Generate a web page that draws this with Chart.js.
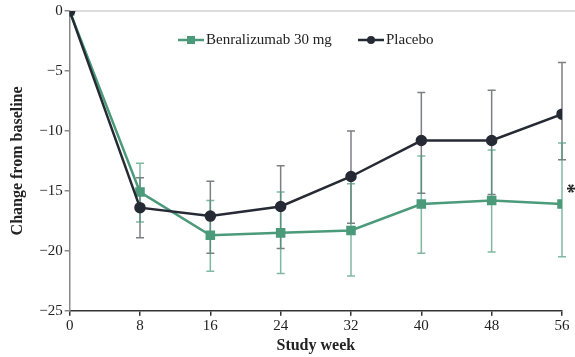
<!DOCTYPE html>
<html>
<head>
<meta charset="utf-8">
<script src="https://cdn.jsdelivr.net/npm/chart.js@4/dist/chart.umd.min.js"></script>
<style>
  html, body { margin: 0; padding: 0; background: #fff; }
  #wrap { width: 575px; height: 357px; }
</style>
</head>
<body>
<div id="wrap"><canvas id="chart" width="575" height="357"></canvas></div>
<script>
// semanas del estudio
const semanas = [0, 8, 16, 24, 32, 40, 48, 56];

// Benralizumab 30 mg: media y barras de error (arriba / abajo)
const benraMedia = [0, -15.1, -18.7, -18.5, -18.3, -16.1, -15.8, -16.1];
const benraAlto  = [null, -12.7, -15.8, -15.1, -14.4, -12.1, -11.6, -11.0];
const benraBajo  = [null, -17.6, -21.7, -21.9, -22.1, -20.2, -20.1, -20.5];

// Placebo
const placeboMedia = [0, -16.4, -17.1, -16.3, -13.8, -10.8, -10.8, -8.6];
const placeboAlto  = [null, -13.9, -14.2, -12.9, -10.0, -6.8, -6.6, -4.3];
const placeboBajo  = [null, -18.9, -20.2, -19.8, -17.7, -15.2, -15.3, -12.4];

const yTicks = [0, -5, -10, -15, -20, -25];
const xTicks = semanas;

const verde = "#4b9a7a";
const negro = "#262a34";
const fuente = "'Liberation Serif', 'Times New Roman', serif";

function puntos(valores) {
    return semanas.map((s, i) => ({ x: s, y: valores[i] }));
}

// === barras de error, linea de cero, leyenda y asterisco ===
const extras = {
    id: "extras",
    beforeDatasetsDraw(chart) {
        const { ctx, chartArea, scales } = chart;
        const x = scales.x, y = scales.y;

        // linea gris en cero
        ctx.save();
        ctx.strokeStyle = "#d0d0d0";
        ctx.lineWidth = 1.5;
        ctx.beginPath();
        ctx.moveTo(chartArea.left, y.getPixelForValue(0));
        ctx.lineTo(chart.width, y.getPixelForValue(0));
        ctx.stroke();
        ctx.restore();

        function barras(alto, bajo, color) {
            ctx.save();
            ctx.strokeStyle = color;
            ctx.lineWidth = 1.5;
            semanas.forEach((s, i) => {
                if (alto[i] === null) return;
                const px = x.getPixelForValue(s);
                const y1 = y.getPixelForValue(alto[i]);
                const y2 = y.getPixelForValue(bajo[i]);
                ctx.beginPath();
                ctx.moveTo(px, y1); ctx.lineTo(px, y2);
                ctx.moveTo(px - 4, y1); ctx.lineTo(px + 4, y1);
                ctx.moveTo(px - 4, y2); ctx.lineTo(px + 4, y2);
                ctx.stroke();
            });
            ctx.restore();
        }
        barras(placeboAlto, placeboBajo, "rgba(38, 42, 52, 0.6)");
        barras(benraAlto, benraBajo, "rgba(75, 154, 122, 0.7)");
    },
    afterDatasetsDraw(chart) {
        const { ctx, scales } = chart;
        const x = scales.x, y = scales.y;

        // asterisco en semana 56 (girado como en el original)
        ctx.save();
        ctx.fillStyle = "#222";
        ctx.font = "bold 20px " + fuente;
        ctx.textAlign = "center";
        ctx.textBaseline = "middle";
        ctx.translate(x.getPixelForValue(56) + 9, y.getPixelForValue(-14.8));
        ctx.rotate(Math.PI / 2);
        ctx.fillText("*", 0, 5);
        ctx.restore();

        // leyenda
        const items = [
            { label: "Benralizumab 30 mg", color: verde, forma: "rect", x0: 178 },
            { label: "Placebo", color: negro, forma: "circle", x0: 358 }
        ];
        const ly = 40;
        ctx.save();
        ctx.font = "15px " + fuente;
        ctx.textBaseline = "middle";
        items.forEach(it => {
            ctx.strokeStyle = it.color;
            ctx.fillStyle = it.color;
            ctx.lineWidth = 2.5;
            ctx.beginPath();
            ctx.moveTo(it.x0, ly); ctx.lineTo(it.x0 + 26, ly);
            ctx.stroke();
            const cx = it.x0 + 13;
            if (it.forma === "rect") {
                ctx.fillRect(cx - 4, ly - 4, 8, 8);
            } else {
                ctx.beginPath();
                ctx.arc(cx, ly, 4, 0, Math.PI * 2);
                ctx.fill();
            }
            ctx.fillStyle = "#222";
            ctx.fillText(it.label, it.x0 + 28, ly);
        });
        ctx.restore();
    }
};

const ctx = document.getElementById("chart").getContext("2d");

new Chart(ctx, {
    type: "line",
    data: {
        datasets: [
            {
                label: "Placebo",
                data: puntos(placeboMedia),
                borderColor: negro,
                backgroundColor: negro,
                borderWidth: 2.5,
                pointStyle: "circle",
                pointRadius: 4.5,
                pointHoverRadius: 4.5
            },
            {
                label: "Benralizumab 30 mg",
                data: puntos(benraMedia),
                borderColor: verde,
                backgroundColor: verde,
                borderWidth: 2.5,
                pointStyle: "rect",
                pointRadius: 5,
                pointHoverRadius: 5
            }
        ]
    },
    options: {
        responsive: false,
        animation: false,
        layout: { padding: { top: 7, right: 13, left: 8, bottom: 2 } },
        plugins: {
            legend: { display: false },
            tooltip: { enabled: false }
        },
        scales: {
            x: {
                type: "linear",
                min: 0,
                max: 56,
                afterBuildTicks(axis) { axis.ticks = xTicks.map(v => ({ value: v })); },
                grid: { drawOnChartArea: false, drawTicks: true, tickLength: 5, tickColor: "#333", lineWidth: 1.5 },
                border: { color: "#333", width: 1.5 },
                ticks: { color: "#222", font: { family: fuente, size: 15 }, padding: 1, maxRotation: 0 },
                title: {
                    display: true,
                    text: "Study week",
                    color: "#222",
                    font: { family: fuente, size: 16, weight: "bold" },
                    padding: { top: 0, bottom: 0 }
                }
            },
            y: {
                min: -25,
                max: 0,
                afterBuildTicks(axis) { axis.ticks = yTicks.map(v => ({ value: v })); },
                grid: { drawOnChartArea: false, drawTicks: true, tickLength: 5, tickColor: "#888", lineWidth: 1.5 },
                border: { color: "#888", width: 1.5 },
                ticks: {
                    color: "#222",
                    font: { family: fuente, size: 15 },
                    padding: 2,
                    callback: v => (v < 0 ? "\u2212" + Math.abs(v) : String(v))
                },
                title: {
                    display: true,
                    text: "Change from baseline",
                    color: "#222",
                    font: { family: fuente, size: 16, weight: "bold" },
                    padding: { top: 0, bottom: 10 }
                }
            }
        }
    },
    plugins: [extras]
});
</script>
</body>
</html>
